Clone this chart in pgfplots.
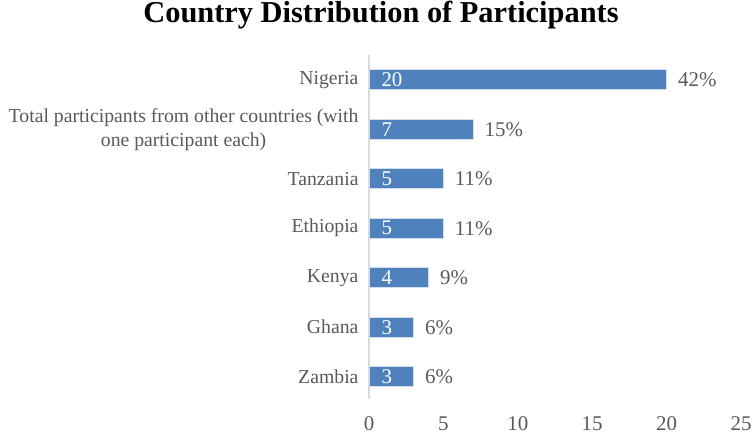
\documentclass[border=0pt]{standalone}
\usepackage{fontspec}
\setmainfont{Liberation Serif}
\usepackage{pgfplots}
\usepackage{pgfplotstable}
\pgfplotsset{compat=1.18}

\definecolor{barblue}{HTML}{4F81BD}
\definecolor{labelgray}{HTML}{595959}
\definecolor{axisgray}{HTML}{D9D9D9}

% position (bottom to top), participants, share of all participants
\pgfplotstableread{
pos count pct
0   3     6
1   3     6
2   4     9
3   5     11
4   5     11
5   7     15
6   20    42
}\participants

\begin{document}
\begin{tikzpicture}
\useasboundingbox (0,0) rectangle (752bp,434bp);
\node[font=\bfseries\fontsize{30.5}{36}\selectfont, anchor=base, inner sep=0pt]
  at (381bp,411bp) {Country Distribution of Participants};
\begin{axis}[
  at={(369bp,35bp)}, anchor=south west,
  scale only axis, width=372bp, height=344bp,
  xmin=0, xmax=25, ymin=-0.45, ymax=6.5,
  axis lines*=left,
  x axis line style={draw=none},
  y axis line style={draw=axisgray, line width=1.5bp},
  xtick={0,5,...,25}, ytick={0,...,6},
  major tick length=0pt,
  yticklabels={Zambia,Ghana,Kenya,Ethiopia,Tanzania,
    {Total participants from other countries (with\\one participant each)},Nigeria},
  yticklabel style={align=center, text=labelgray,
    font=\fontsize{19.8}{24}\selectfont, xshift=-7bp},
  xticklabel style={text=labelgray, font=\fontsize{21}{25}\selectfont, yshift=-14bp},
  /pgf/number format/assume math mode=true,
  clip=false,
]
% bars, with the share written after each bar
\addplot[xbar, bar shift=0pt, bar width=20bp, fill=barblue, draw=white!75!barblue,
  line width=0.5bp,
  point meta=explicit symbolic,
  nodes near coords={\pgfplotspointmeta\%},
  every node near coord/.style={anchor=west, text=labelgray,
    font=\fontsize{21}{25}\selectfont, xshift=8bp}]
  table[x=count, y=pos, meta=pct] {\participants};
% participant counts written inside the bars
\addplot[draw=none, mark=none, forget plot,
  point meta=explicit symbolic,
  nodes near coords={\pgfplotspointmeta},
  every node near coord/.style={anchor=west, text=white,
    font=\fontsize{21}{25}\selectfont, xshift=9bp}]
  table[x expr=0, y=pos, meta=count] {\participants};
\end{axis}
\end{tikzpicture}
\end{document}
